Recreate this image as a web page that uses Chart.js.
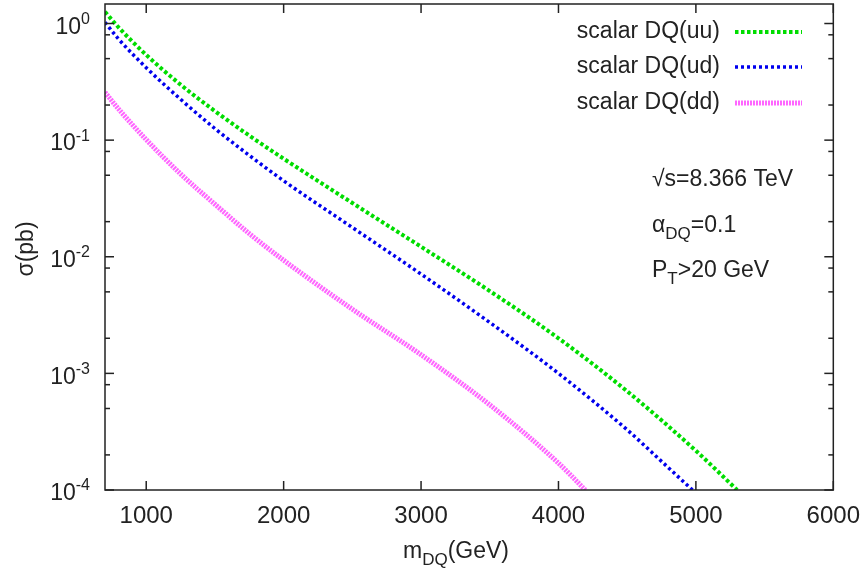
<!DOCTYPE html>
<html>
<head>
<meta charset="utf-8">
<script src="https://cdn.jsdelivr.net/npm/chart.js@4.4.1/dist/chart.umd.min.js"></script>
<style>
  body { margin: 0; background: #fff; }
</style>
</head>
<body>
<canvas id="dqChart" width="864" height="571"></canvas>
<script>
// scalar diquark cross section, sigma (pb) vs m_DQ (GeV)
var mass_uu  = [700, 800, 1000, 1250, 1500, 1750, 2000, 2500, 3000, 3500, 4000, 4500, 5000, 5300];
var sigma_uu = [1.259, 0.923, 0.538, 0.299, 0.1774, 0.1094, 0.0693, 0.0289, 0.01219, 0.00508, 0.0020, 0.000702, 0.000217, 0.0001];

var mass_ud  = [700, 800, 1000, 1250, 1500, 1750, 2000, 2500, 3000, 3500, 4000, 4500, 4750, 4975];
var sigma_ud = [1.023, 0.733, 0.418, 0.224, 0.1256, 0.0740, 0.0448, 0.01782, 0.0071, 0.00273, 0.001, 0.000328, 0.000176, 0.0001];

var mass_dd  = [700, 800, 1000, 1250, 1500, 1750, 2000, 2500, 3000, 3500, 4000, 4195];
var sigma_dd = [0.257, 0.184, 0.101, 0.0513, 0.0282, 0.0158, 0.00933, 0.00355, 0.001445, 0.000537, 0.00017, 0.0001];

var series_labels = ['scalar DQ(uu)', 'scalar DQ(ud)', 'scalar DQ(dd)'];

var x_ticks   = [1000, 2000, 3000, 4000, 5000, 6000];
var y_decades = [-4, -3, -2, -1, 0];   // major ticks 10^n
var y_minor   = [2, 5, 8];             // minor ticks k*10^n

var FONT = '"Liberation Sans", Arial, Helvetica, sans-serif';
var INK  = '#222';

function toPoints(xs, ys){
    var pts = [];
    for (var i = 0; i < xs.length; i++){
        pts.push({x: xs[i], y: ys[i]});
    }
    return pts;
}

// draw text pieces, some of them as subscript
function drawRich(ctx, parts, x, y, size){
    var cx = x;
    parts.forEach(function(p){
        var s = p.sub ? Math.round(size * 0.72) : size;
        ctx.font = s + 'px ' + FONT;
        var dy = p.sub ? size * 0.3 : 0;
        ctx.fillText(p.t, cx, y + dy);
        cx += ctx.measureText(p.t).width;
    });
}

var frameAndText = {
    id: 'frameAndText',
    afterDraw: function(chart){
        var ctx = chart.ctx;
        var a   = chart.chartArea;
        var xs  = chart.scales.x;
        var ys  = chart.scales.y;

        ctx.save();
        ctx.strokeStyle = INK;
        ctx.fillStyle   = INK;
        ctx.lineWidth   = 1.5;

        function seg(x1, y1, x2, y2){
            ctx.beginPath();
            ctx.moveTo(x1, y1);
            ctx.lineTo(x2, y2);
            ctx.stroke();
        }

        ctx.strokeRect(a.left, a.top, a.right - a.left, a.bottom - a.top);

        // x ticks (inward, mirrored on top)
        x_ticks.forEach(function(v){
            var px = xs.getPixelForValue(v);
            seg(px, a.bottom, px, a.bottom - 9);
            seg(px, a.top, px, a.top + 9);
        });

        // y ticks, majors + minors, mirrored on right
        y_decades.forEach(function(n){
            var py = ys.getPixelForValue(Math.pow(10, n));
            seg(a.left, py, a.left + 9, py);
            seg(a.right, py, a.right - 9, py);
            y_minor.forEach(function(k){
                var v = k * Math.pow(10, n);
                if (v > ys.max) return;
                var pm = ys.getPixelForValue(v);
                seg(a.left, pm, a.left + 5, pm);
                seg(a.right, pm, a.right - 5, pm);
            });
        });

        // y tick labels 10^n
        ctx.textBaseline = 'middle';
        ctx.textAlign = 'left';
        y_decades.forEach(function(n){
            var py = ys.getPixelForValue(Math.pow(10, n));
            ctx.font = '16px ' + FONT;
            var ew = ctx.measureText(String(n)).width;
            ctx.font = '23px ' + FONT;
            var bw = ctx.measureText('10').width;
            var right = 90;
            ctx.fillText('10', right - ew - bw, py + 4);
            ctx.font = '16px ' + FONT;
            ctx.fillText(String(n), right - ew, py - 4);
        });

        // axis titles
        ctx.textBaseline = 'alphabetic';
        ctx.save();
        ctx.translate(33, 249);
        ctx.rotate(-Math.PI / 2);
        ctx.textAlign = 'center';
        ctx.font = '23px ' + FONT;
        ctx.fillText('σ(pb)', 0, 0);
        ctx.restore();

        ctx.textAlign = 'left';
        drawRich(ctx, [{t: 'm'}, {t: 'DQ', sub: true}, {t: '(GeV)'}], 403, 558, 23);

        // legend, text right aligned and a line sample
        ctx.textBaseline = 'middle';
        var rows = [32, 67, 103];
        chart.data.datasets.forEach(function(ds, i){
            ctx.textAlign = 'right';
            ctx.font = '23px ' + FONT;
            ctx.fillStyle = INK;
            ctx.fillText(ds.label, 720, rows[i]);
            ctx.strokeStyle = ds.borderColor;
            ctx.lineWidth = ds.borderWidth;
            ctx.setLineDash(ds.borderDash);
            seg(735, rows[i], 802, rows[i]);
            ctx.setLineDash([]);
        });

        // run conditions
        ctx.fillStyle = INK;
        ctx.textAlign = 'left';
        ctx.textBaseline = 'alphabetic';
        drawRich(ctx, [{t: '√s=8.366 TeV'}], 652, 186, 23);
        drawRich(ctx, [{t: 'α'}, {t: 'DQ', sub: true}, {t: '=0.1'}], 652, 232, 23);
        drawRich(ctx, [{t: 'P'}, {t: 'T', sub: true}, {t: '>20 GeV'}], 652, 277, 23);

        ctx.restore();
    }
};

var ctx = document.getElementById('dqChart').getContext('2d');
var myChart = new Chart(ctx, {
    type: 'line',
    data: {
        datasets: [{
            label: series_labels[0],
            data: toPoints(mass_uu, sigma_uu),
            borderColor: '#00dd00',
            borderWidth: 4,
            borderDash: [3.5, 2.5],
            pointRadius: 0,
            cubicInterpolationMode: 'monotone',
            fill: false
        },
        {
            label: series_labels[1],
            data: toPoints(mass_ud, sigma_ud),
            borderColor: '#0000ee',
            borderWidth: 3.5,
            borderDash: [3, 3],
            pointRadius: 0,
            cubicInterpolationMode: 'monotone',
            fill: false
        },
        {
            label: series_labels[2],
            data: toPoints(mass_dd, sigma_dd),
            borderColor: '#ff66ff',
            borderWidth: 5,
            borderDash: [2, 1],
            pointRadius: 0,
            cubicInterpolationMode: 'monotone',
            fill: false
        }]
    },
    options: {
        responsive: false,
        animation: false,
        layout: { padding: { left: 0, top: 4, right: 29, bottom: 0 } },
        plugins: {
            legend: { display: false },
            tooltip: { enabled: false }
        },
        scales: {
            x: {
                type: 'linear',
                min: 700,
                max: 6000,
                afterBuildTicks: function(s){
                    s.ticks = x_ticks.map(function(v){ return {value: v}; });
                },
                grid: { display: false },
                border: { display: false },
                ticks: {
                    font: { family: FONT, size: 24 },
                    color: INK,
                    padding: 4,
                    maxRotation: 0,
                    autoSkip: false,
                    callback: function(v){ return String(v); }
                },
                afterFit: function(s){ s.height = 81; }
            },
            y: {
                type: 'logarithmic',
                min: 1e-4,
                max: 1.47,
                grid: { display: false },
                border: { display: false },
                ticks: { display: false },
                afterFit: function(s){ s.width = 105; }
            }
        }
    },
    plugins: [frameAndText]
});
</script>
</body>
</html>
